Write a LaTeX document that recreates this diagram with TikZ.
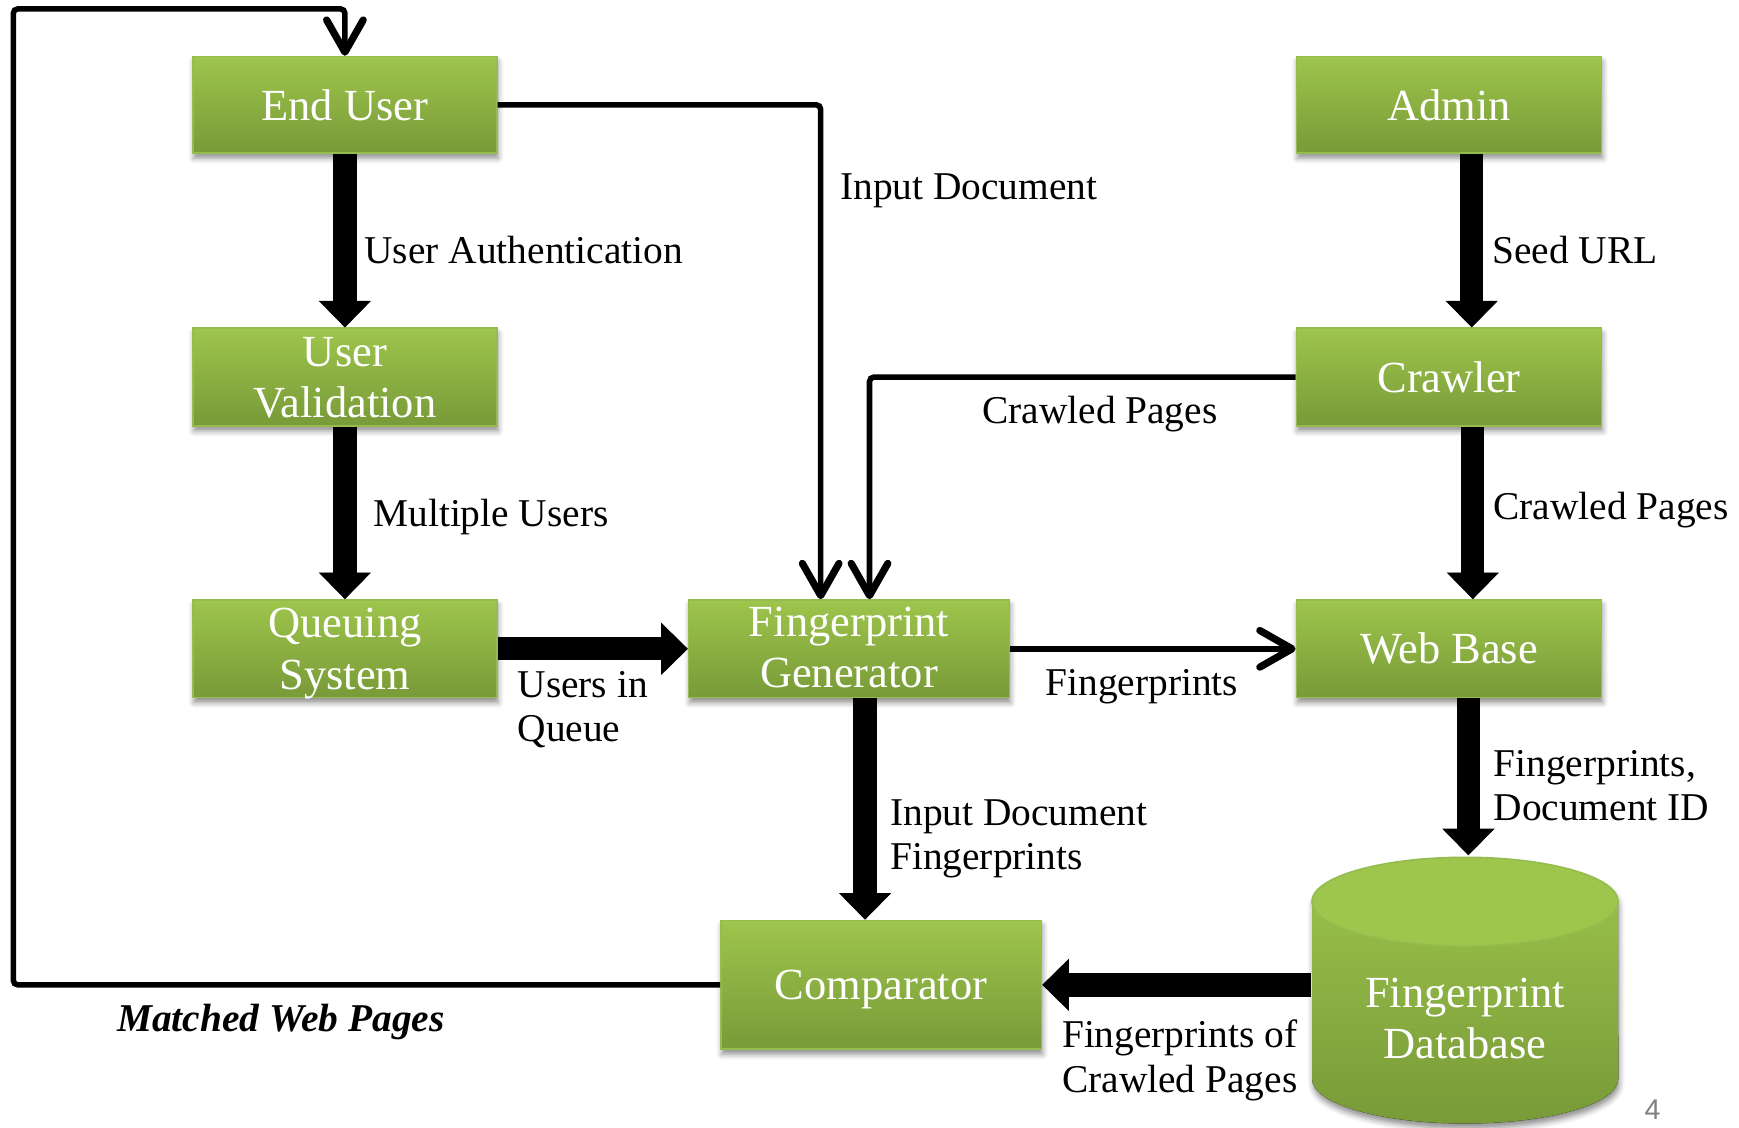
\documentclass[tikz,border=0pt]{standalone}
\usepackage{fontspec}
\setmainfont{Liberation Serif}
\newfontfamily\numfont{Liberation Sans}
\usetikzlibrary{arrows.meta,shadows.blur}
\definecolor{gtop}{RGB}{158,197,76}
\definecolor{gbot}{RGB}{120,154,56}
\definecolor{gedge}{RGB}{148,188,78}
\begin{document}
\begin{tikzpicture}[x=0.01cm,y=-0.01cm,
 boxstyle/.style={rectangle, inner sep=0pt, top color=gtop, bottom color=gbot, draw=gedge, line width=0.4pt, text=white, align=center,
   font=\fontsize{11.4pt}{13.1pt}\selectfont,
   blur shadow={shadow xshift=0.01cm, shadow yshift=-0.045cm, shadow blur radius=0.05cm, shadow opacity=45}},
 lbl/.style={inner sep=0pt, anchor=base west, align=left, font=\fontsize{10.1pt}{11.4pt}\selectfont},
 fat/.style={draw=black, line width=0.21cm, -{Triangle[width=0.47cm,length=0.24cm,line width=0.2pt,fill=black,color=black]}},
 slim/.style={draw=black, line width=0.05cm, -{Straight Barb[length=0.29cm,width=0.33cm,line width=0.065cm,round]}, rounded corners=0.04cm},
]
\useasboundingbox (0,0) rectangle (1568,1017);

% boxes
\node[boxstyle, minimum width=2.74cm, minimum height=0.87cm] (enduser) at (311,94.5) {End User};
\node[boxstyle, minimum width=2.74cm, minimum height=0.88cm, text depth=-0.07cm] (uval) at (311,340) {User\\Validation};
\node[boxstyle, minimum width=2.74cm, minimum height=0.88cm, text depth=-0.043cm] (queue) at (311,585) {Queuing\\System};
\node[boxstyle, minimum width=2.89cm, minimum height=0.88cm, text depth=0.027cm] (fpgen) at (765.5,585) {Fingerprint\\Generator};
\node[boxstyle, minimum width=2.75cm, minimum height=0.87cm] (admin) at (1306.5,94.5) {Admin};
\node[boxstyle, minimum width=2.75cm, minimum height=0.88cm] (crawler) at (1306.5,340) {Crawler};
\node[boxstyle, minimum width=2.75cm, minimum height=0.88cm] (webbase) at (1306.5,585) {Web Base};
\node[boxstyle, minimum width=2.89cm, minimum height=1.16cm, text depth=-0.033cm] (comparator) at (794.5,888) {Comparator};

% database cylinder
\fill[top color=gtop, bottom color=gbot,
  blur shadow={shadow xshift=0.01cm, shadow yshift=-0.045cm, shadow blur radius=0.05cm, shadow opacity=45}]
  (1183,813) -- (1183,973) arc[start angle=180,end angle=360,x radius=1.38cm,y radius=0.4cm]
  -- (1459,813) arc[start angle=0,end angle=180,x radius=1.38cm,y radius=0.4cm] -- cycle;
\draw[draw=gedge, line width=0.4pt, fill=gtop] (1321,813) ellipse [x radius=1.38cm, y radius=0.4cm];
\node[inner sep=0pt, minimum width=2.76cm, minimum height=2.41cm] (db) at (1321,892.5) {};
\node[inner sep=0pt, text=white, align=center, font=\fontsize{11.4pt}{13.1pt}\selectfont] (dbtext) at (1321,918) {Fingerprint\\Database};

% labels (base = baseline of last line)
\node[lbl] (lUA) at (328,238) {User Authentication};
\node[lbl] (lID) at (757,180) {Input Document};
\node[lbl] (lSU) at (1345,238) {Seed URL};
\node[lbl] (lCP1) at (885,382) {Crawled Pages};
\node[lbl] (lMU) at (336,475) {Multiple Users};
\node[lbl] (lCP2) at (1346,468) {Crawled Pages};
\node[lbl] (lUQ) at (466,669) {Users in\\Queue};
\node[lbl] (lFP) at (942,627) {Fingerprints};
\node[lbl] (lFD) at (1346,740) {Fingerprints,\\Document ID};
\node[lbl] (lIF) at (802,784) {Input Document\\Fingerprints};
\node[lbl] (lFC) at (957,985) {Fingerprints of\\Crawled Pages};
\node[lbl, font=\fontsize{10.1pt}{11.4pt}\selectfont\bfseries\itshape] (lMW) at (105,930) {Matched Web Pages};
\node[inner sep=0pt, text={rgb,255:red,128;green,128;blue,128}, font=\numfont\fontsize{7.3pt}{8pt}\selectfont] (pg) at (1490,1001) {4};

% thick connectors
\draw[fat] (enduser.south) -- (uval.north);
\draw[fat] (uval.south) -- (queue.north);
\draw[fat] (queue.east) -- (fpgen.west);
\draw[fat] ([xshift=0.145cm]fpgen.south) -- ([xshift=0.145cm]fpgen.south |- comparator.north);
\draw[fat] ([xshift=0.205cm]admin.south) -- ([xshift=0.205cm]crawler.north);
\draw[fat] ([xshift=0.215cm]crawler.south) -- ([xshift=0.215cm]webbase.north);
\draw[fat] ([xshift=0.175cm]webbase.south) -- ([xshift=0.175cm]webbase.south |- db.north);
\draw[fat] (comparator.east -| db.west) -- (comparator.east);

% slim connectors
\draw[slim] (fpgen.east) -- (webbase.west);
\draw[slim] (enduser.east) -| ([xshift=-0.255cm]fpgen.north);
\draw[slim] (crawler.west) -| ([xshift=0.185cm]fpgen.north);
\coordinate (lc1) at (12,887);
\coordinate (lc2) at (12,8);
\draw[slim] (comparator.west) -- (comparator.west -| lc1) -- (lc2) -- (lc2 -| enduser.north) -- (enduser.north);
\end{tikzpicture}
\end{document}
